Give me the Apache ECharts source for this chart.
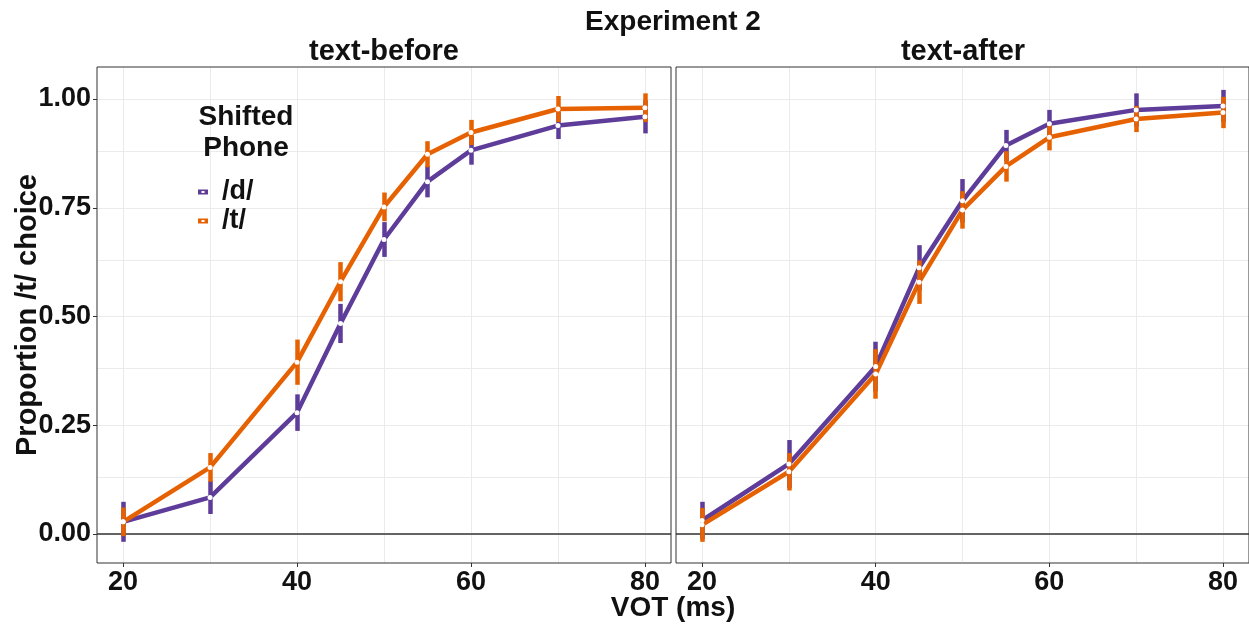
<!DOCTYPE html>
<html>
<head>
<meta charset="utf-8">
<script src="https://cdn.jsdelivr.net/npm/echarts@6/dist/echarts.min.js"></script>
<style>html,body{margin:0;padding:0;background:#fff;}#c{width:1249px;height:626px;}</style>
</head>
<body>
<div id="c"></div>
<script>
// ---- data ----
const vot = [20, 30, 40, 45, 50, 55, 60, 70, 80];
const panels = ['text-before', 'text-after'];
const phones = ['/d/', '/t/'];
const beforeD = [0.028, 0.084, 0.279, 0.484, 0.677, 0.810, 0.882, 0.939, 0.959];
const beforeT = [0.028, 0.153, 0.395, 0.580, 0.752, 0.873, 0.923, 0.977, 0.980];
const beforeDErr = [0.046, 0.038, 0.042, 0.045, 0.040, 0.036, 0.033, 0.031, 0.038];
const beforeTErr = [0.033, 0.033, 0.052, 0.045, 0.033, 0.030, 0.029, 0.030, 0.033];
const afterD = [0.031, 0.161, 0.385, 0.612, 0.766, 0.893, 0.943, 0.975, 0.984];
const afterT = [0.021, 0.143, 0.368, 0.579, 0.745, 0.845, 0.912, 0.954, 0.969];
const afterDErr = [0.043, 0.055, 0.057, 0.052, 0.050, 0.036, 0.032, 0.038, 0.037];
const afterTErr = [0.039, 0.043, 0.057, 0.050, 0.043, 0.035, 0.030, 0.030, 0.036];
const yTicks = [0, 0.25, 0.5, 0.75, 1];
const yMinor = [0.125, 0.375, 0.625, 0.875];
const xTicks = [20, 40, 60, 80];
const xMinor = [30, 50, 70];

// ---- styling ----
const PURPLE = '#5e3c99', ORANGE = '#e66101';
const FONT = '"Liberation Sans", Arial, Helvetica, sans-serif';
const TXT = '#111';
const LW = 4.5;

const chart = echarts.init(document.getElementById('c'), null, {renderer: 'canvas'});

const dataSets = [
  [{name: phones[0], color: PURPLE, v: beforeD, e: beforeDErr}, {name: phones[1], color: ORANGE, v: beforeT, e: beforeTErr}],
  [{name: phones[0], color: PURPLE, v: afterD, e: afterDErr}, {name: phones[1], color: ORANGE, v: afterT, e: afterTErr}]
];

const grids = [
  {left: 97, top: 67, width: 574, height: 496},
  {left: 676, top: 67, width: 574, height: 496}
].map(g => Object.assign(g, {show: true, borderColor: '#333', borderWidth: 1, backgroundColor: 'transparent', z: 10}));

const xAxes = [0, 1].map(i => ({
  type: 'value', gridIndex: i, min: 17, max: 83, position: 'bottom',
  axisLine: {show: false, onZero: false},
  axisTick: {show: true, customValues: xTicks, length: 4, lineStyle: {color: '#333', width: 1}},
  axisLabel: {customValues: xTicks, fontSize: 27, fontWeight: 'bold', fontFamily: FONT, color: TXT, margin: 6},
  splitLine: {show: false}
}));
const yAxes = [0, 1].map(i => ({
  type: 'value', gridIndex: i, min: -0.0667, max: 1.0736, position: 'left',
  axisLine: {show: false, onZero: false},
  axisTick: {show: i === 0, customValues: yTicks, length: 4, lineStyle: {color: '#333', width: 1}},
  axisLabel: {show: i === 0, customValues: yTicks, fontSize: 27, fontWeight: 'bold', fontFamily: FONT, color: TXT, margin: 6,
    formatter: v => Number(v).toFixed(2)},
  splitLine: {show: false}
}));

const series = [];
[0, 1].forEach(p => {
  // grid lines
  const gl = [];
  yTicks.concat(yMinor).forEach(v => gl.push({yAxis: v}));
  xTicks.concat(xMinor).forEach(v => gl.push({xAxis: v}));
  series.push({
    type: 'line', xAxisIndex: p, yAxisIndex: p, data: [], silent: true, z: 0,
    markLine: {z: 0, silent: true, symbol: 'none', label: {show: false}, animation: false,
      lineStyle: {color: '#ebebeb', width: 1, type: 'solid'}, data: gl}
  });
  // horizontal line at 0
  series.push({
    type: 'line', xAxisIndex: p, yAxisIndex: p, data: [], silent: true, z: 1,
    markLine: {z: 1, silent: true, symbol: 'none', label: {show: false}, animation: false,
      lineStyle: {color: '#333', width: 1.5, type: 'solid'}, data: [{yAxis: 0}]}
  });
  // lines
  dataSets[p].forEach(d => {
    series.push({
      name: d.name, type: 'line', xAxisIndex: p, yAxisIndex: p, z: 2,
      data: vot.map((x, k) => [x, d.v[k]]),
      showSymbol: false, symbol: 'none',
      lineStyle: {color: d.color, width: LW, cap: 'butt', join: 'round'},
      itemStyle: {color: d.color}
    });
  });
  // error bars (markLine segments from value +/- error)
  dataSets[p].forEach(d => {
    series.push({
      name: d.name, type: 'line', xAxisIndex: p, yAxisIndex: p, z: 3, data: [], silent: true,
      itemStyle: {color: d.color},
      markLine: {z: 3, silent: true, symbol: 'none', label: {show: false}, animation: false,
        emphasis: {disabled: true},
        lineStyle: {color: d.color, width: LW, type: 'solid', cap: 'butt', opacity: 1},
        data: vot.map((x, k) => [{coord: [x, d.v[k] - d.e[k]]}, {coord: [x, d.v[k] + d.e[k]]}])}
    });
  });
  // points
  dataSets[p].forEach(d => {
    series.push({
      name: d.name, type: 'scatter', xAxisIndex: p, yAxisIndex: p, z: 6,
      data: vot.map((x, k) => [x, d.v[k]]),
      symbol: 'circle', symbolSize: 5,
      itemStyle: {color: '#fff', borderWidth: 0, opacity: 1}
    });
  });
});

const ICON = 'path://M0,0H10V5H0Z M3.5,1.5V3.5H6.5V1.5Z';
const txtStyle = (t, size) => ({text: t, font: 'bold ' + size + 'px ' + FONT, fill: TXT, stroke: null, lineWidth: 0, align: 'center', verticalAlign: 'middle'});

const option = {
  animation: false,
  backgroundColor: '#fff',
  grid: grids,
  xAxis: xAxes,
  yAxis: yAxes,
  series: series,
  legend: {
    orient: 'vertical', left: 198, top: 178, padding: 0, itemWidth: 10, itemHeight: 5, itemGap: 1,
    selectedMode: false,
    itemStyle: {borderWidth: 0},
    data: [
      {name: phones[0], icon: ICON, itemStyle: {color: PURPLE, borderWidth: 0}},
      {name: phones[1], icon: ICON, itemStyle: {color: ORANGE, borderWidth: 0}}
    ],
    textStyle: {fontSize: 27, fontWeight: 'bold', fontFamily: FONT, color: TXT, lineHeight: 28, padding: [0, 0, 0, 9],
      textBorderWidth: 0}
  },
  graphic: [
    {type: 'text', x: 673, y: 22, z: 20, style: txtStyle('Experiment 2', 28)},
    {type: 'text', x: 384, y: 52, z: 20, style: txtStyle(panels[0], 29)},
    {type: 'text', x: 963, y: 52, z: 20, style: txtStyle(panels[1], 29)},
    {type: 'text', x: 673, y: 608, z: 20, style: txtStyle('VOT (ms)', 28)},
    {type: 'text', x: 28, y: 315, z: 20, rotation: Math.PI / 2, style: txtStyle('Proportion /t/ choice', 29)},
    {type: 'text', x: 246, y: 117, z: 20, style: txtStyle('Shifted', 28)},
    {type: 'text', x: 246, y: 148, z: 20, style: txtStyle('Phone', 28)}
  ]
};
chart.setOption(option);
</script>
</body>
</html>
